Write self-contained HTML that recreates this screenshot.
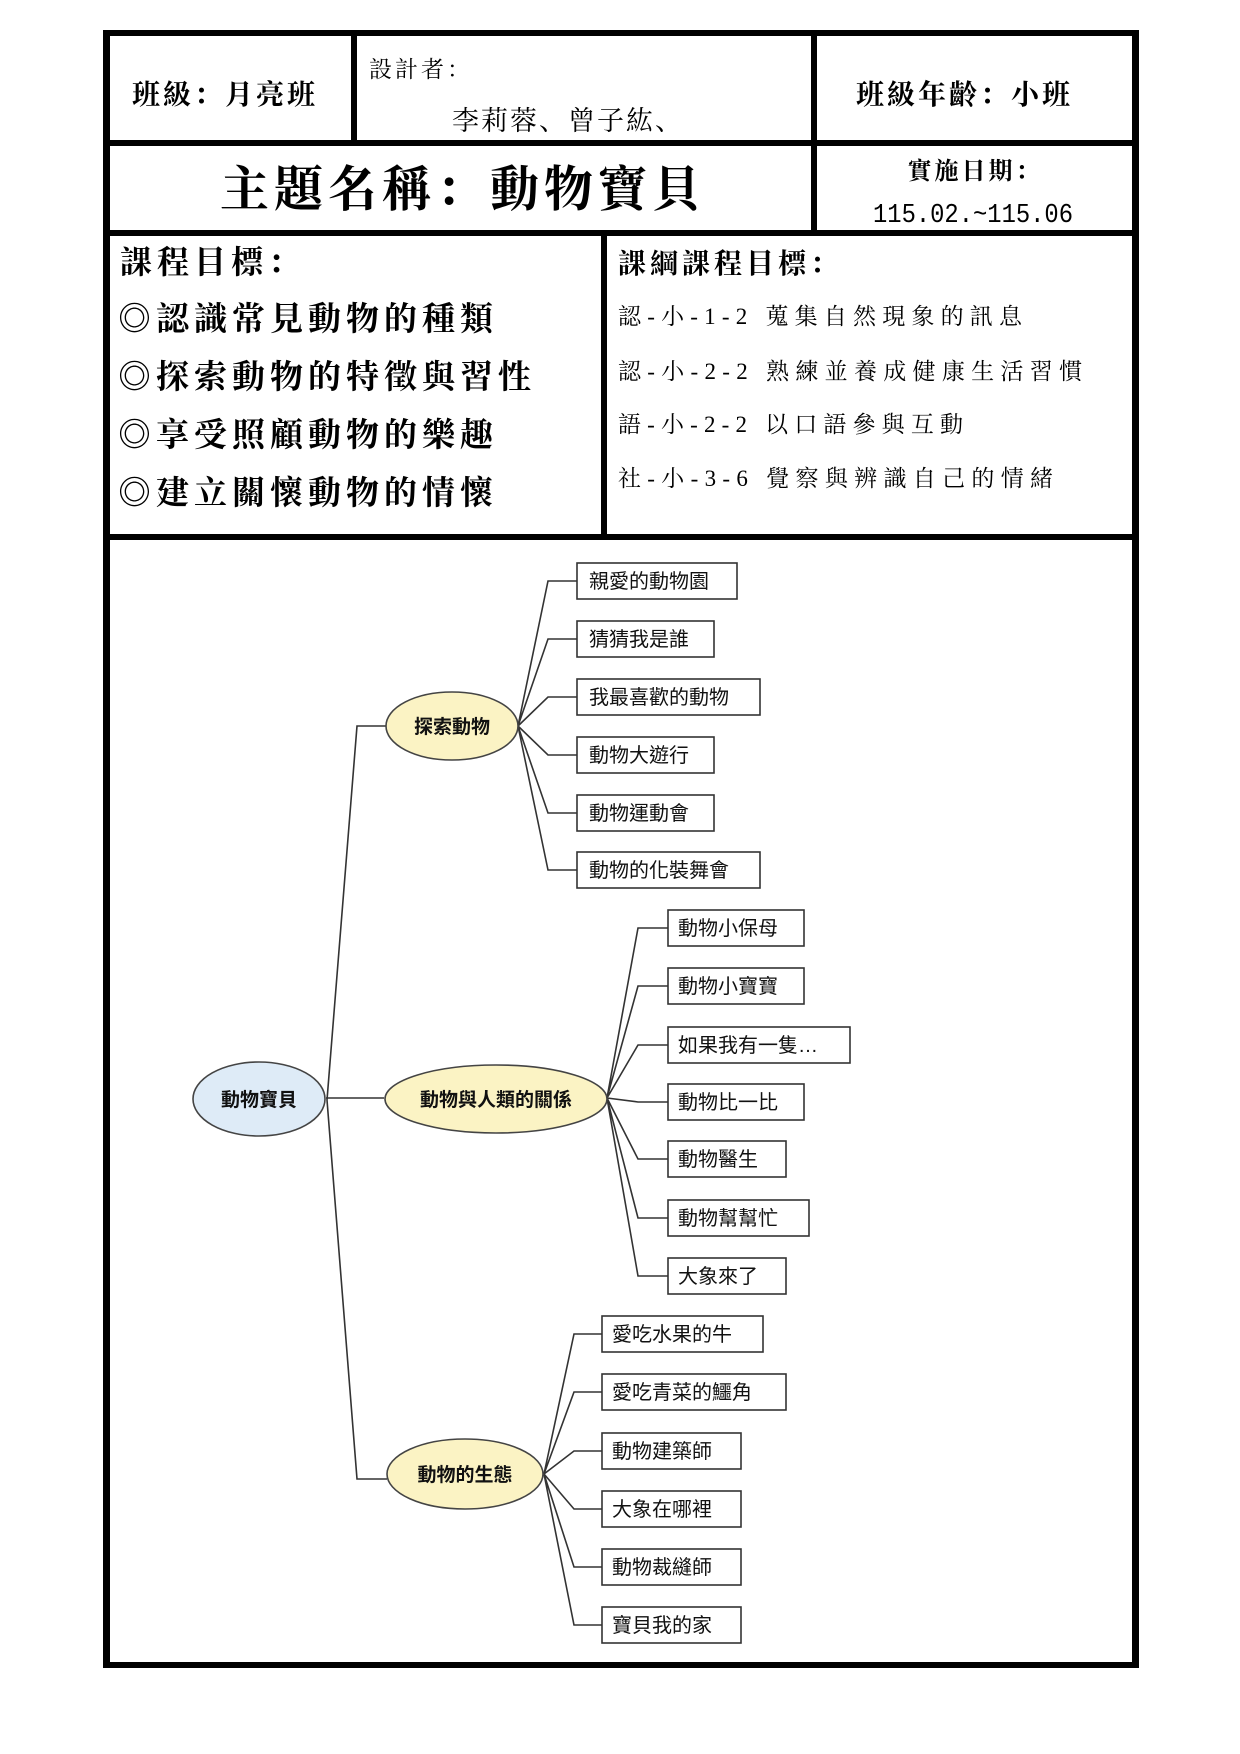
<!DOCTYPE html>
<html><head><meta charset="utf-8"><style>
body{margin:0;background:#fff;}
svg{display:block;}
.s{font-family:"Liberation Serif","Noto Serif CJK SC",serif;fill:#000;}
.b{font-family:"Liberation Sans","Noto Sans CJK TC",sans-serif;fill:#111;font-size:20px;}
.e{font-family:"Liberation Sans","Noto Sans CJK TC",sans-serif;fill:#111;font-size:19px;font-weight:bold;}
</style></head><body>
<svg width="1240" height="1754" viewBox="0 0 1240 1754" xmlns="http://www.w3.org/2000/svg">
<rect width="1240" height="1754" fill="#fff"/>
<g fill="#000">
<rect x="103" y="30" width="1036" height="6"/>
<rect x="103" y="1662" width="1036" height="6"/>
<rect x="103" y="30" width="7" height="1638"/>
<rect x="1132" y="30" width="7" height="1638"/>
<rect x="103" y="140" width="1036" height="6"/>
<rect x="103" y="230" width="1036" height="6"/>
<rect x="103" y="534" width="1036" height="6"/>
<rect x="351" y="30" width="6" height="116"/>
<rect x="811" y="30" width="6" height="206"/>
<rect x="601" y="230" width="6" height="310"/>
</g>
<g class="s">
<text x="132" y="104" font-size="28" font-weight="bold" letter-spacing="3">班級：月亮班</text>
<text x="369" y="77" font-size="23" letter-spacing="3">設計者：</text>
<text x="452" y="130" font-size="27" letter-spacing="2">李莉蓉、曾子紘、</text>
<text x="856" y="104" font-size="28" font-weight="bold" letter-spacing="3">班級年齡：小班</text>
<text x="220" y="206" font-size="49" font-weight="bold" letter-spacing="5">主題名稱：動物寶貝</text>
<text x="975" y="179" font-size="24" font-weight="bold" text-anchor="middle" letter-spacing="3">實施日期：</text>
<text x="973" y="222" font-size="27" text-anchor="middle" font-family="Liberation Mono,monospace" textLength="200" lengthAdjust="spacingAndGlyphs">115.02.~115.06</text>
<text x="120" y="273" font-size="32" font-weight="bold" letter-spacing="5">課程目標：</text>
<text x="118" y="330" font-size="33" font-weight="bold" letter-spacing="5">◎認識常見動物的種類</text>
<text x="118" y="388" font-size="33" font-weight="bold" letter-spacing="5">◎探索動物的特徵與習性</text>
<text x="118" y="446" font-size="33" font-weight="bold" letter-spacing="5">◎享受照顧動物的樂趣</text>
<text x="118" y="504" font-size="33" font-weight="bold" letter-spacing="5">◎建立關懷動物的情懷</text>
<text x="618" y="273" font-size="28" font-weight="bold" letter-spacing="4">課綱課程目標：</text>
<text x="618" y="324" font-size="23" textLength="404">認-小-1-2 蒐集自然現象的訊息</text>
<text x="618" y="379" font-size="23" textLength="464">認-小-2-2 熟練並養成健康生活習慣</text>
<text x="618" y="432" font-size="23" textLength="345">語-小-2-2 以口語參與互動</text>
<text x="618" y="486" font-size="23" textLength="435">社-小-3-6 覺察與辨識自己的情緒</text>
</g>
<g stroke="#333" stroke-width="1.6" fill="none">
<polyline points="386,726 357,726 327,1100 357,1479 387,1479"/>
<line x1="326" y1="1098" x2="384" y2="1098"/>
<path d="M518,726 L548,581 H577 M518,726 L548,639 H577 M518,726 L548,697 H577 M518,726 L548,755 H577 M518,726 L548,813 H577 M518,726 L548,870 H577"/>
<path d="M607,1098 L638,928 H668 M607,1098 L638,986 H668 M607,1098 L638,1045 H668 M607,1098 L638,1102 H668 M607,1098 L638,1159 H668 M607,1098 L638,1218 H668 M607,1098 L638,1276 H668"/>
<path d="M544,1474 L574,1334 H602 M544,1474 L574,1392 H602 M544,1474 L574,1451 H602 M544,1474 L574,1509 H602 M544,1474 L574,1567 H602 M544,1474 L574,1625 H602"/>
</g>
<g stroke="#444" stroke-width="1.6">
<ellipse cx="259" cy="1099" rx="66" ry="37" fill="#deebf7"/>
<ellipse cx="452" cy="726" rx="66" ry="34" fill="#fbf3c4"/>
<ellipse cx="496" cy="1099" rx="111" ry="34" fill="#fbf3c4"/>
<ellipse cx="465" cy="1474" rx="78" ry="35" fill="#fbf3c4"/>
</g>
<g class="e" text-anchor="middle">
<text x="259" y="1106">動物寶貝</text>
<text x="452" y="733">探索動物</text>
<text x="496" y="1106">動物與人類的關係</text>
<text x="465" y="1481">動物的生態</text>
</g>
<g stroke="#333" stroke-width="1.6" fill="#fff">
<rect x="577" y="563" width="160" height="36"/>
<rect x="577" y="621" width="137" height="36"/>
<rect x="577" y="679" width="183" height="36"/>
<rect x="577" y="737" width="137" height="36"/>
<rect x="577" y="795" width="137" height="36"/>
<rect x="577" y="852" width="183" height="36"/>
<rect x="668" y="910" width="136" height="36"/>
<rect x="668" y="968" width="136" height="36"/>
<rect x="668" y="1027" width="182" height="36"/>
<rect x="668" y="1084" width="136" height="36"/>
<rect x="668" y="1141" width="118" height="36"/>
<rect x="668" y="1200" width="141" height="36"/>
<rect x="668" y="1258" width="118" height="36"/>
<rect x="602" y="1316" width="161" height="36"/>
<rect x="602" y="1374" width="184" height="36"/>
<rect x="602" y="1433" width="139" height="36"/>
<rect x="602" y="1491" width="139" height="36"/>
<rect x="602" y="1549" width="139" height="36"/>
<rect x="602" y="1607" width="139" height="36"/>
</g>
<g class="b">
<text x="589" y="588">親愛的動物園</text>
<text x="589" y="646">猜猜我是誰</text>
<text x="589" y="704">我最喜歡的動物</text>
<text x="589" y="762">動物大遊行</text>
<text x="589" y="820">動物運動會</text>
<text x="589" y="877">動物的化裝舞會</text>
<text x="678" y="935">動物小保母</text>
<text x="678" y="993">動物小寶寶</text>
<text x="678" y="1052">如果我有一隻…</text>
<text x="678" y="1109">動物比一比</text>
<text x="678" y="1166">動物醫生</text>
<text x="678" y="1225">動物幫幫忙</text>
<text x="678" y="1283">大象來了</text>
<text x="612" y="1341">愛吃水果的牛</text>
<text x="612" y="1399">愛吃青菜的鱷角</text>
<text x="612" y="1458">動物建築師</text>
<text x="612" y="1516">大象在哪裡</text>
<text x="612" y="1574">動物裁縫師</text>
<text x="612" y="1632">寶貝我的家</text>
</g>
</svg>
</body></html>
